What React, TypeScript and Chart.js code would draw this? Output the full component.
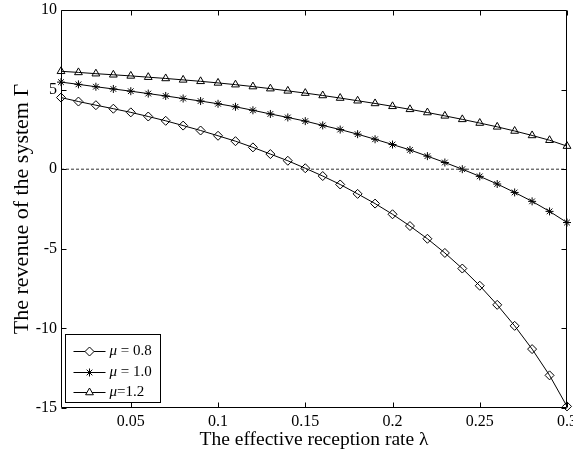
import React, { useEffect, useRef } from 'react';
import { Chart, registerables } from 'chart.js';
import { drawPoint } from 'chart.js/helpers';

Chart.register(...registerables);

const lambdaValues = [
  0.01, 0.02, 0.03, 0.04, 0.05, 0.06, 0.07, 0.08, 0.09, 0.1,
  0.11, 0.12, 0.13, 0.14, 0.15, 0.16, 0.17, 0.18, 0.19, 0.2,
  0.21, 0.22, 0.23, 0.24, 0.25, 0.26, 0.27, 0.28, 0.29, 0.3,
];

const revenueMu08 = [
  4.5, 4.25, 4.02, 3.8, 3.57, 3.31, 3.04, 2.74, 2.43, 2.1,
  1.76, 1.37, 0.95, 0.53, 0.06, -0.43, -0.96, -1.55, -2.16, -2.83,
  -3.57, -4.37, -5.26, -6.24, -7.32, -8.52, -9.84, -11.3, -12.95, -14.9,
];

const revenueMu10 = [
  5.47, 5.33, 5.18, 5.04, 4.9, 4.75, 4.6, 4.44, 4.28, 4.11,
  3.92, 3.7, 3.47, 3.25, 3.02, 2.75, 2.49, 2.2, 1.88, 1.55,
  1.21, 0.82, 0.42, 0.0, -0.45, -0.93, -1.46, -2.02, -2.65, -3.35,
];

const revenueMu12 = [
  6.15, 6.08, 6.0, 5.93, 5.86, 5.78, 5.7, 5.61, 5.52, 5.42,
  5.31, 5.19, 5.06, 4.92, 4.78, 4.63, 4.47, 4.3, 4.13, 3.95,
  3.76, 3.56, 3.35, 3.13, 2.9, 2.66, 2.4, 2.12, 1.82, 1.45,
];

const seriesLabels = ['μ = 0.8', 'μ = 1.0', 'μ=1.2'];
const xTicks = [0.05, 0.1, 0.15, 0.2, 0.25, 0.3];
const yTicks = [-15, -10, -5, 0, 5, 10];
const xTitle = 'The effective reception rate λ';
const yTitle = 'The revenue of the system Γ';

const SERIF = "'Liberation Serif', 'Times New Roman', serif";

export default function App() {
  const ref = useRef<HTMLCanvasElement>(null);

  useEffect(() => {
    document.body.style.margin = '0';
    const canvas = ref.current!;
    const toPts = (ys: number[]) => lambdaValues.map((x, i) => ({ x, y: ys[i] }));

    const framePlugin = {
      id: 'frame',
      afterDatasetsDraw(chart: any) {
        const { ctx, chartArea: a, scales } = chart;
        ctx.save();
        ctx.strokeStyle = '#000';
        ctx.lineWidth = 1;
        ctx.beginPath();
        const L = Math.round(a.left) + 0.5;
        const R = Math.round(a.right) - 0.5;
        const T = Math.round(a.top) + 0.5;
        const B = Math.round(a.bottom) - 0.5;
        ctx.rect(L, T, R - L, B - T);
        const tl = 5;
        for (const v of xTicks) {
          const px = Math.round(scales.x.getPixelForValue(v)) + 0.5;
          ctx.moveTo(px, B);
          ctx.lineTo(px, B - tl);
          ctx.moveTo(px, T);
          ctx.lineTo(px, T + tl);
        }
        for (const v of yTicks) {
          const py = Math.round(scales.y.getPixelForValue(v)) + 0.5;
          ctx.moveTo(L, py);
          ctx.lineTo(L + tl, py);
          ctx.moveTo(R, py);
          ctx.lineTo(R - tl, py);
        }
        ctx.stroke();
        ctx.restore();
      },
      afterDraw(chart: any) {
        const { ctx, chartArea: a } = chart;
        const items = chart.data.datasets.filter((d: any) => d.label);
        const bx = Math.round(a.left) + 4.5;
        const bw = 95;
        const rowH = 20.5;
        const bh = 68;
        const by = Math.round(a.bottom) - 5.5 - bh;
        ctx.save();
        ctx.fillStyle = '#fff';
        ctx.fillRect(bx, by, bw, bh);
        ctx.strokeStyle = '#000';
        ctx.lineWidth = 1;
        ctx.strokeRect(bx, by, bw, bh);
        items.forEach((d: any, i: number) => {
          const cy = Math.round(by + 16.5 + i * rowH) + 0.5;
          ctx.strokeStyle = '#000';
          ctx.lineWidth = 1;
          ctx.beginPath();
          ctx.moveTo(bx + 8, cy);
          ctx.lineTo(bx + 40, cy);
          ctx.stroke();
          ctx.fillStyle = '#fff';
          ctx.strokeStyle = '#000';
          drawPoint(ctx, {
            pointStyle: d.pointStyle,
            radius: d.pointRadius,
            borderWidth: 1,
            rotation: 0,
          } as any, bx + 24, cy);
          ctx.fillStyle = '#000';
          ctx.textBaseline = 'middle';
          ctx.textAlign = 'left';
          const label: string = d.label;
          ctx.font = `italic 15px ${SERIF}`;
          const first = label.slice(0, 1);
          ctx.fillText(first, bx + 44, cy);
          const w = ctx.measureText(first).width;
          ctx.font = `15px ${SERIF}`;
          ctx.fillText(label.slice(1), bx + 44 + w, cy);
        });
        ctx.restore();
      },
    };

    const common = {
      borderColor: '#000',
      borderWidth: 1,
      pointBorderColor: '#000',
      pointBackgroundColor: 'rgba(255,255,255,0)',
      pointBorderWidth: 1,
      tension: 0,
      clip: false as any,
    };

    const chart = new Chart(canvas, {
      type: 'line',
      data: {
        datasets: [
          {
            label: '',
            data: [{ x: lambdaValues[0], y: 0 }, { x: lambdaValues[lambdaValues.length - 1], y: 0 }],
            borderColor: '#333',
            borderWidth: 1,
            borderDash: [3, 2],
            pointRadius: 0,
            clip: false as any,
          },
          { ...common, label: seriesLabels[0], data: toPts(revenueMu08), pointStyle: 'rectRot', pointRadius: 4.5 },
          { ...common, label: seriesLabels[1], data: toPts(revenueMu10), pointStyle: 'star', pointRadius: 4 },
          { ...common, label: seriesLabels[2], data: toPts(revenueMu12), pointStyle: 'triangle', pointRadius: 4.5 },
        ] as any,
      },
      options: {
        animation: false,
        responsive: false,
        devicePixelRatio: 1,
        layout: { padding: { left: 0, right: 6, top: 10, bottom: 0 } },
        plugins: { legend: { display: false }, tooltip: { enabled: false } },
        scales: {
          x: {
            type: 'linear',
            min: lambdaValues[0],
            max: lambdaValues[lambdaValues.length - 1],
            grid: { display: false, drawTicks: false },
            border: { display: false },
            afterBuildTicks: (s: any) => { s.ticks = xTicks.map((v) => ({ value: v })); },
            afterFit: (s: any) => { s.height = 47; s.paddingLeft = 0; s.paddingRight = 0; },
            ticks: {
              color: '#000',
              font: { family: SERIF, size: 16 },
              padding: 4,
              maxRotation: 0,
              autoSkip: false,
              callback: (v: any) => String(v),
            },
            title: {
              display: true,
              text: xTitle,
              color: '#000',
              font: { family: SERIF, size: 19.5 },
              padding: { top: 0, bottom: 3 },
            },
          },
          y: {
            type: 'linear',
            min: yTicks[0],
            max: yTicks[yTicks.length - 1],
            grid: { display: false, drawTicks: false },
            border: { display: false },
            afterBuildTicks: (s: any) => { s.ticks = yTicks.map((v) => ({ value: v })); },
            afterFit: (s: any) => { s.width = 61; s.paddingTop = 0; s.paddingBottom = 0; },
            ticks: {
              color: '#000',
              font: { family: SERIF, size: 16 },
              padding: 4,
              autoSkip: false,
              callback: (v: any) => String(v),
            },
            title: {
              display: true,
              text: yTitle,
              color: '#000',
              font: { family: SERIF, size: 22 },
              padding: { top: 9, bottom: 0 },
            },
          },
        },
      } as any,
      plugins: [framePlugin],
    });

    return () => chart.destroy();
  }, []);

  return <canvas ref={ref} width={573} height={455} style={{ display: 'block', width: 573, height: 455 }} />;
}
